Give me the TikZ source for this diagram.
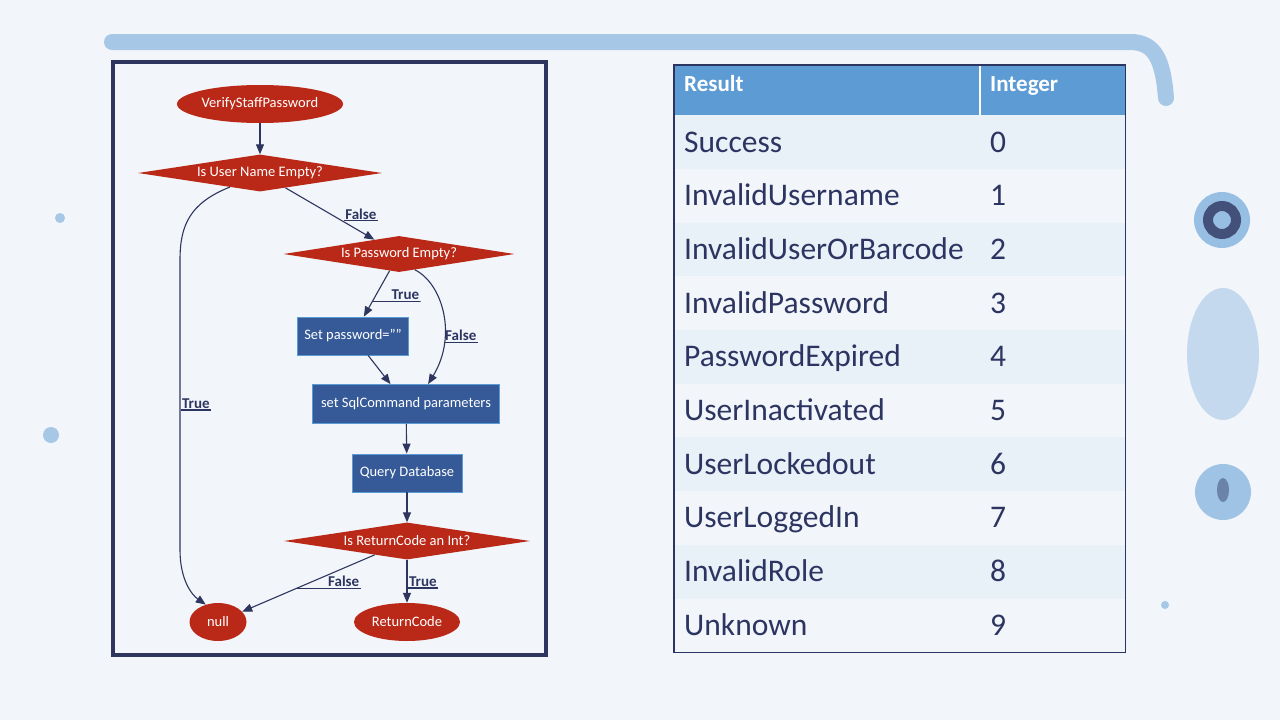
\documentclass[tikz,border=0pt]{standalone}
\usepackage{fontspec}
\setmainfont{Carlito}
\usetikzlibrary{matrix, arrows.meta, shapes.geometric}
\definecolor{bg}{RGB}{242,245,249}
\definecolor{ink}{RGB}{44,53,97}
\definecolor{navy}{RGB}{46,54,96}
\definecolor{flred}{RGB}{186,41,24}
\definecolor{boxblue}{RGB}{54,90,152}
\definecolor{accent}{RGB}{91,155,213}
\definecolor{header}{RGB}{93,155,212}
\definecolor{band}{RGB}{232,240,248}

\begin{document}
\begin{tikzpicture}[x=1pt, y=1pt,
  term/.style={ellipse, fill=flred, text=white, font=\fontsize{14.5}{16}\selectfont, inner sep=0pt, minimum height=38pt},
  test/.style={diamond, aspect=6.6, fill=flred, text=white, font=\fontsize{14.5}{16}\selectfont, inner sep=1pt, minimum height=37pt},
  task/.style={rectangle, fill=boxblue, draw=accent, line width=.8pt, text=white, font=\fontsize{14.5}{16}\selectfont, minimum height=38pt},
  arr/.style={-{Triangle[length=10pt, width=8pt]}, navy, line width=1.1pt},
  lbl/.style={anchor=south west, inner sep=1.5pt, text=ink, font=\fontsize{15}{17}\bfseries\selectfont,
    path picture={\draw[-, ink, line width=1.6pt] (path picture bounding box.south west) -- (path picture bounding box.south east);}}]
\fill[bg] (0,0) rectangle (1280,-720);
\draw[accent, opacity=.5, line width=16pt, line cap=round] (112,-42) -- (1130,-42) .. controls (1155,-42) and (1163,-60) .. (1166,-98);
\fill[accent, opacity=.6] (1222,-220) circle (28);
\draw[navy, opacity=.8, line width=10pt] (1222,-220) circle (14);
\fill[accent, opacity=.3] (1223,-354) ellipse (36 and 66);
\fill[accent, opacity=.55] (1223,-492) circle (28);
\fill[navy, opacity=.45] (1223,-490) ellipse (6 and 12);
\fill[accent, opacity=.5] (60,-218) circle (5);
\fill[accent, opacity=.5] (51,-435) circle (8);
\fill[accent, opacity=.5] (1165,-605) circle (4);

\draw[navy, line width=4pt] (113,-62) rectangle (546,-655);
\node[term, minimum width=166pt] (verify) at (260,-104) {VerifyStaffPassword};
\node[test, minimum width=244pt] (qname) at (260,-173) {Is User Name Empty?};
\node[test, minimum width=231pt, minimum height=36pt] (qpass) at (399,-254) {Is Password Empty?};
\node[task, minimum width=111pt] (setpw) at (353,-336) {Set password=""};
\node[task, minimum width=187pt, minimum height=39pt] (sqlcmd) at (406,-404) {set SqlCommand parameters};
\node[task, minimum width=110pt] (query) at (407,-473) {Query Database};
\node[test, minimum width=246pt] (qcode) at (407,-541) {Is ReturnCode an Int?};
\node[term, minimum width=57pt] (nullout) at (218,-622) {null};
\node[term, minimum width=106pt] (retcode) at (407,-622) {ReturnCode};
\draw[arr] (verify) -- (qname);
\draw[arr] (qname) -- (qpass) node[lbl, pos=.65]{False};
\draw[arr] (qname.205) .. controls (190,-203) and (180,-225) .. (180,-260) -- (180,-550) node[lbl, pos=.52]{True} .. controls (180,-580) and (192,-595) .. (nullout.125);
\draw[arr] (qpass) -- (setpw) node[lbl, pos=.68, text width=45pt, align=right]{True};
\draw[arr] (qpass.-45) .. controls (442,-283) and (458,-335) .. (sqlcmd.42) node[lbl, pos=.72]{False};
\draw[arr] (setpw) -- (sqlcmd);
\draw[arr] (sqlcmd) -- (query);
\draw[arr] (query) -- (qcode);
\draw[arr] (qcode) -- (nullout) node[lbl, pos=.6, text width=62pt, align=right]{False};
\draw[arr] (qcode) -- (retcode) node[lbl, pos=.67]{True};

\matrix (m) [matrix of nodes, anchor=north west, inner sep=0pt, row sep=0pt, column sep=0pt,
  nodes={font=\fontsize{31.5}{36}\selectfont, text=ink, minimum height=53.7pt, text height=24pt, text depth=4pt, inner xsep=10pt, inner ysep=0pt, align=left},
  column 1/.style={nodes={text width=286pt}},
  column 2/.style={nodes={text width=125pt}},
  row 1/.style={nodes={fill=header, text=white, font=\fontsize{23}{28}\bfseries\selectfont, minimum height=50pt, text height=14pt, text depth=11pt}},
  row 2/.style={nodes={fill=band}},
  row 4/.style={nodes={fill=band}},
  row 6/.style={nodes={fill=band}},
  row 8/.style={nodes={fill=band}},
  row 10/.style={nodes={fill=band}}] at (674,-65) {
Result & Integer \\
Success & 0 \\
InvalidUsername & 1 \\
InvalidUserOrBarcode & 2 \\
InvalidPassword & 3 \\
PasswordExpired & 4 \\
UserInactivated & 5 \\
UserLockedout & 6 \\
UserLoggedIn & 7 \\
InvalidRole & 8 \\
Unknown & 9 \\
};
\draw[white, line width=1.5pt] (m-1-2.north west) -- (m-1-2.south west);
\draw[ink, line width=1.5pt] (m.north west) rectangle (m.south east);
\end{tikzpicture}
\end{document}
